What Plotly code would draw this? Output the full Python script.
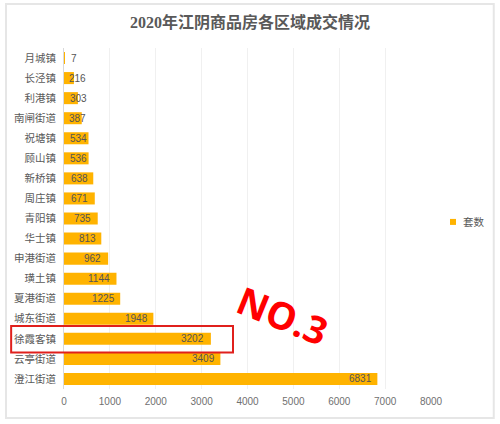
import plotly.graph_objects as go

TITLE = '2020年江阴商品房各区域成交情况'
SERIES_NAME = '套数'

districts = ['月城镇', '长泾镇', '利港镇', '南闸街道', '祝塘镇', '顾山镇', '新桥镇', '周庄镇', '青阳镇',
             '华士镇', '申港街道', '璜土镇', '夏港街道', '城东街道', '徐霞客镇', '云亭街道', '澄江街道']
sales = [7, 216, 303, 387, 534, 536, 638, 671, 735, 813, 962, 1144, 1225, 1948, 3202, 3409, 6831]
x_ticks = [0, 1000, 2000, 3000, 4000, 5000, 6000, 7000, 8000]

# labels were dragged around by hand in the original, shift in px from the bar end
label_shift = [10, 4, 1, -4, -10, -10, -14, -15, -15, -14, -16, -17, -17, -17, -18, -17, -17]

fig = go.Figure()
fig.add_trace(go.Bar(name=SERIES_NAME, y=districts, x=sales, orientation='h',
                     marker=dict(color='#FFB300', line_width=0), showlegend=False))

for d, v, s in zip(districts, sales, label_shift):
    fig.add_annotation(x=v, y=d, text=str(v), showarrow=False, xshift=s, xanchor='center',
                       font=dict(size=10, color='#555555', family='Liberation Sans'))

# chart frame
fig.add_shape(type='rect', xref='paper', yref='paper', x0=-0.158, x1=1.171, y0=-0.085, y1=1.129,
              line=dict(color='#E6E6E6', width=2), fillcolor='rgba(0,0,0,0)', layer='below')

# highlight box around the third place
fig.add_shape(type='rect', xref='paper', yref='paper', x0=-0.144, x1=0.4605, y0=0.107, y1=0.1848,
              line=dict(color='#E0201C', width=2), fillcolor='rgba(0,0,0,0)')
fig.add_annotation(xref='paper', yref='paper', x=0.597, y=0.217, text='<b>NO.3</b>', showarrow=False,
                   xanchor='center', yanchor='middle', textangle=22,
                   font=dict(size=38, color='#FF0000', family='Open Sans'))

# small square legend, plotly's own bar swatch is too big
fig.add_shape(type='rect', xref='paper', yref='paper', xsizemode='pixel', ysizemode='pixel',
              xanchor=1.06, yanchor=0.49, x0=-3, x1=3, y0=-3, y1=3,
              line_width=0, fillcolor='#FFB300')
fig.add_annotation(xref='paper', yref='paper', x=1.06, y=0.49, xshift=8, xanchor='left', text=SERIES_NAME,
                   showarrow=False, font=dict(size=10.5, color='#595959'))

fig.update_layout(
    width=500, height=424,
    margin=dict(l=64, r=69, t=48, b=35, autoexpand=False),
    paper_bgcolor='white', plot_bgcolor='white',
    bargap=0.4,
    title=dict(text='<b>' + TITLE + '</b>', x=0.5, xanchor='center', y=0.948, yanchor='middle',
               font=dict(size=16, color='#595959', family='Liberation Serif, Noto Sans CJK SC')),
    font=dict(family='Noto Sans CJK SC', color='#595959'),
    showlegend=False,
)
fig.update_xaxes(range=[0, 8000], tickvals=x_ticks, showgrid=True, gridcolor='#F0F0F0', gridwidth=1,
                 automargin=False, zeroline=False, showline=False, ticks='', ticklabelstandoff=5,
                 tickfont=dict(size=10, color='#707070', family='Liberation Sans'))
fig.update_yaxes(autorange='reversed', showgrid=False, zeroline=False, showline=True, linecolor='#D9D9D9',
                 automargin=False, ticks='', ticklabelstandoff=5, tickfont=dict(size=10.5, color='#595959'))

# the default page has an 8px body margin that pushes the chart off the window
fig.write_html('out.html', config=dict(displayModeBar=False), post_script="document.body.style.margin='0';")
